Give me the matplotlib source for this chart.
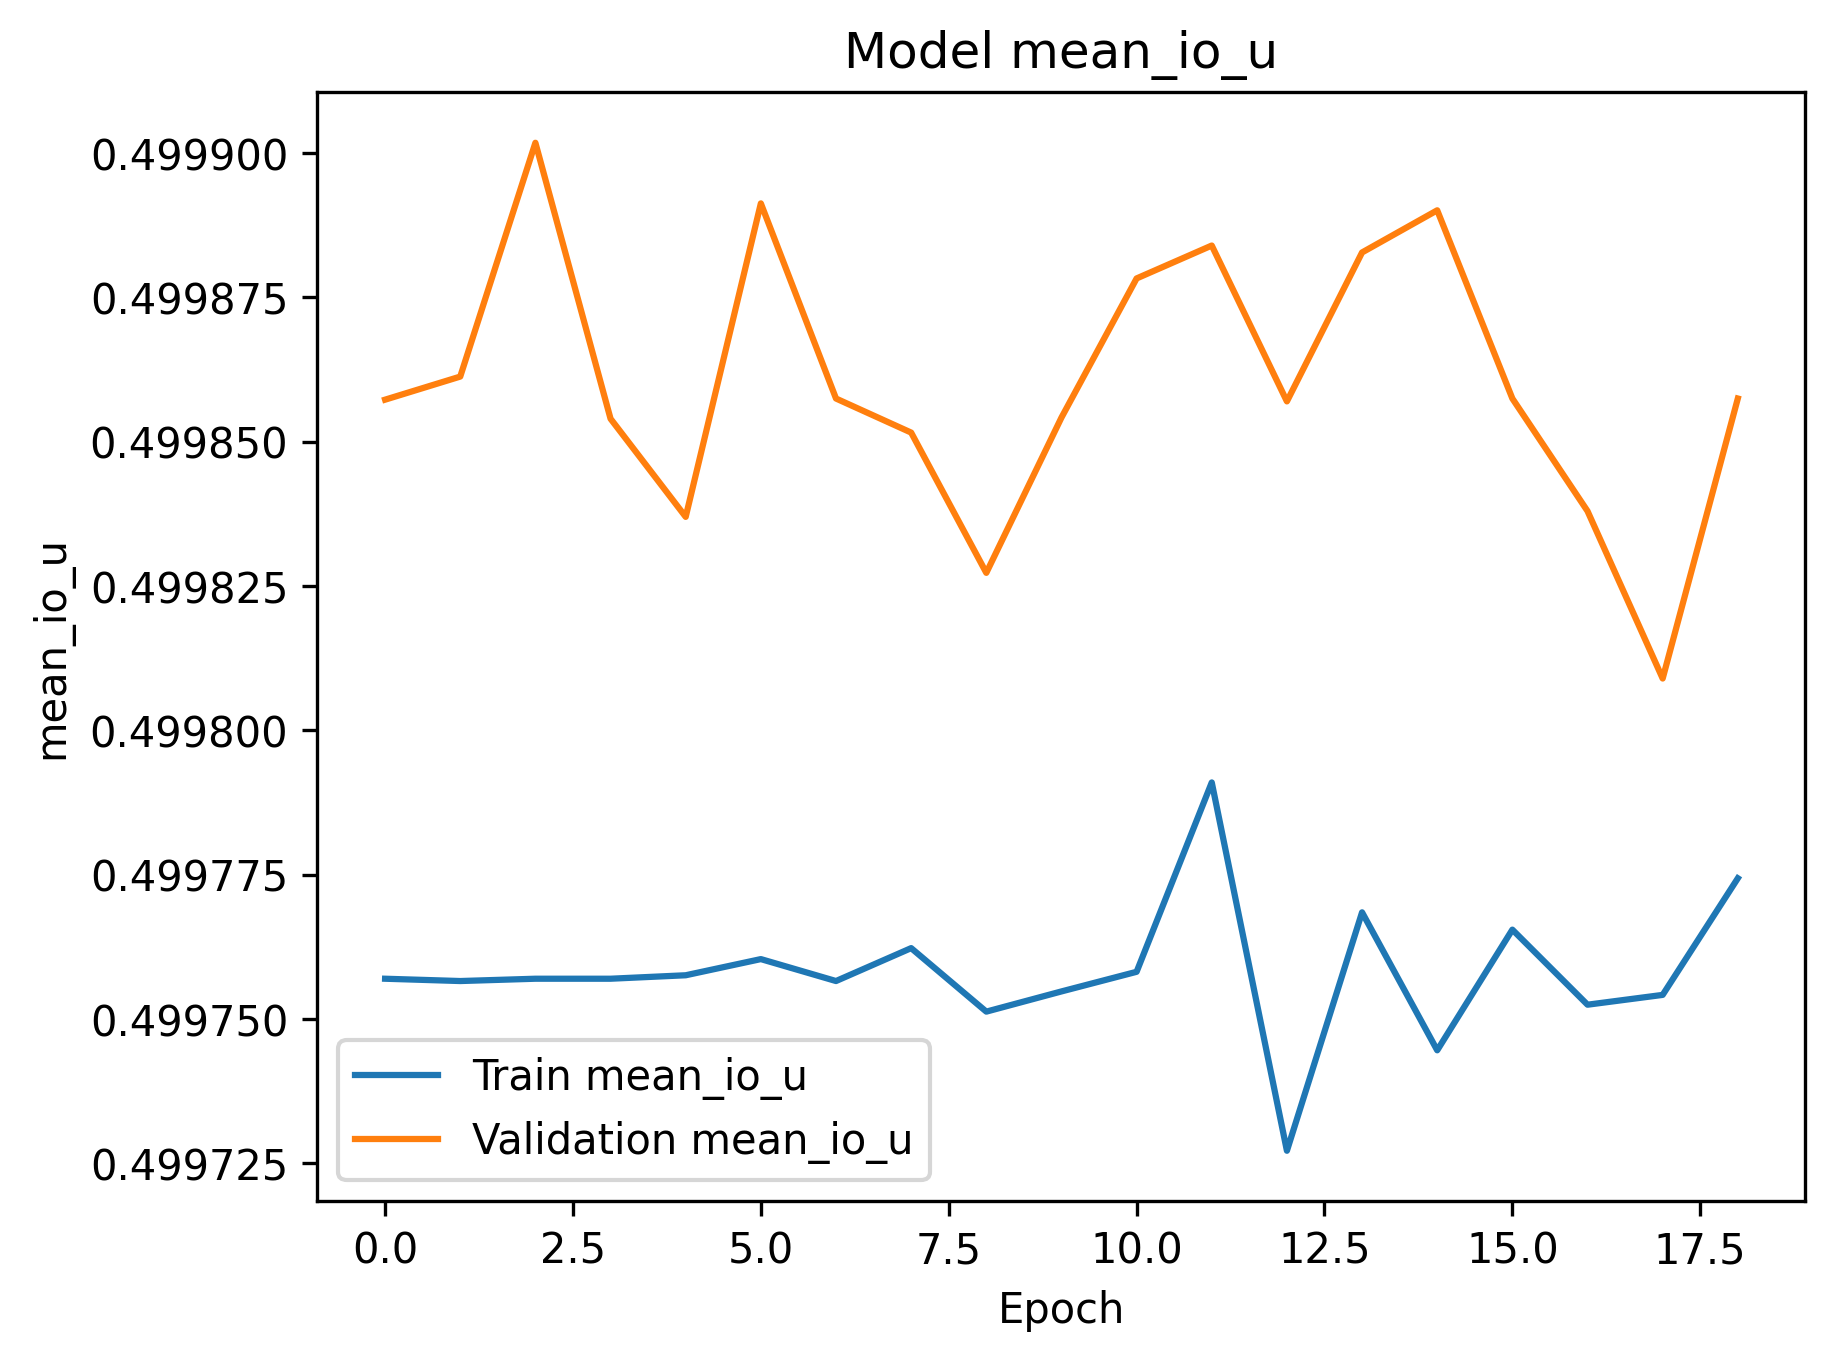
import matplotlib
matplotlib.use("Agg")
import matplotlib.pyplot as plt

epochs = list(range(19))
train_miou = [0.4997570, 0.4997566, 0.4997570, 0.4997570, 0.4997576, 0.4997604,
              0.4997566, 0.4997623, 0.4997513, 0.4997548, 0.4997582, 0.4997910,
              0.4997272, 0.4997685, 0.4997446, 0.4997655, 0.4997525, 0.4997542,
              0.4997744]
val_miou = [0.4998573, 0.4998613, 0.4999018, 0.4998540, 0.4998370, 0.4998913,
            0.4998575, 0.4998516, 0.4998273, 0.4998542, 0.4998783, 0.4998840,
            0.4998570, 0.4998828, 0.4998901, 0.4998575, 0.4998380, 0.4998090,
            0.4998575]

fig, ax = plt.subplots(figsize=(6.4, 4.8), dpi=300)
ax.plot(epochs, train_miou, label="Train mean_io_u")
ax.plot(epochs, val_miou, label="Validation mean_io_u")
ax.set_title("Model mean_io_u")
ax.set_xlabel("Epoch")
ax.set_ylabel("mean_io_u")
ax.legend(loc="lower left")

fig.savefig("out.png", dpi=300, bbox_inches="tight")
